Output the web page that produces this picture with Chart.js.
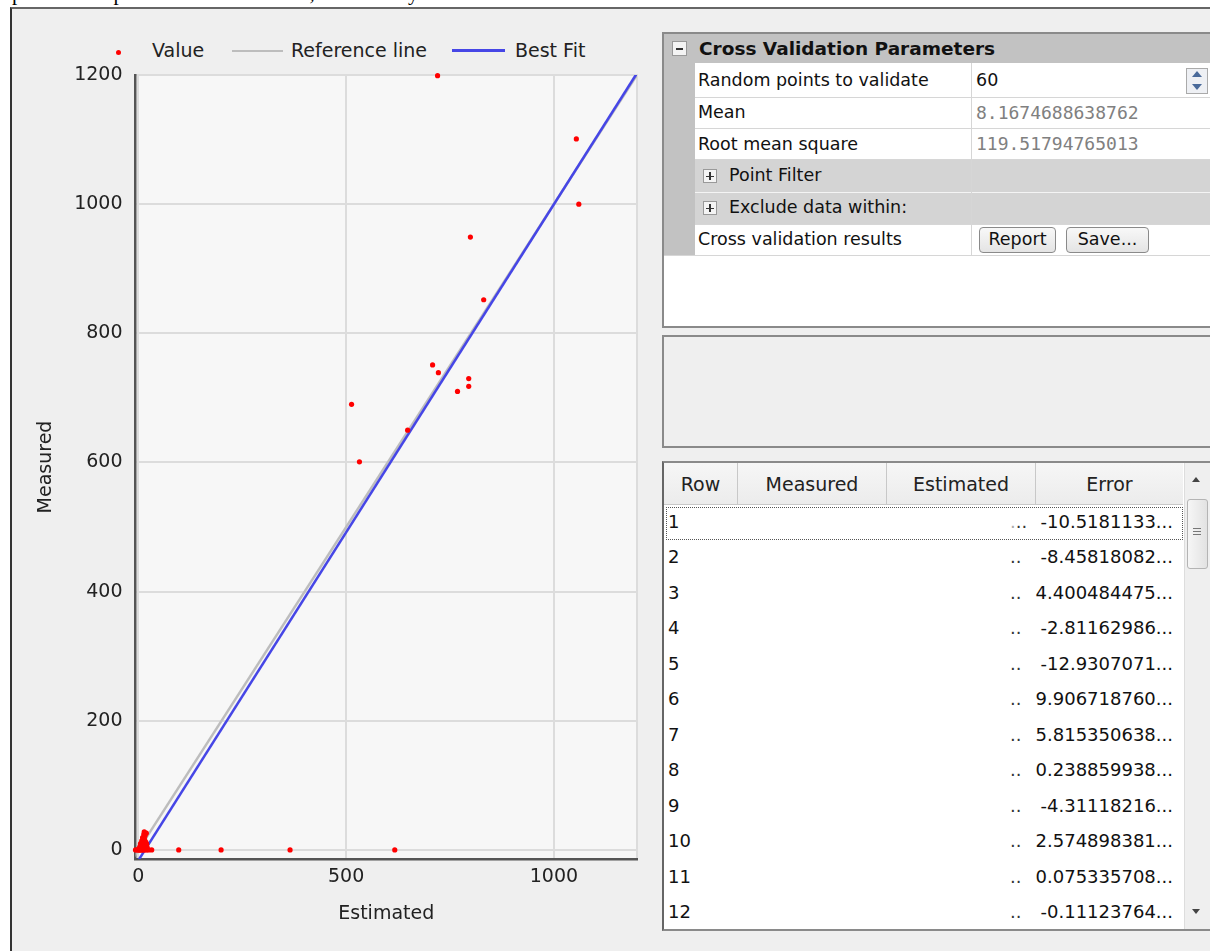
<!DOCTYPE html>
<html><head><meta charset="utf-8">
<script src="https://cdn.jsdelivr.net/npm/chart.js@4.4.1/dist/chart.umd.min.js"></script>
<style>
body{margin:0;width:1210px;height:951px;background:#fff;overflow:hidden;position:relative;font-family:"DejaVu Sans",sans-serif;color:#111;}
.abs{position:absolute;}
#toptext{left:12px;top:-17px;font-family:"Liberation Serif",serif;font-size:21px;line-height:21px;white-space:nowrap;color:#000;}
#frame{left:10px;top:7px;width:1200px;height:944px;background:#efefef;border-left:2px solid #333;border-top:2px solid #666;box-sizing:border-box;}
#chartwrap{left:20px;top:30px;width:635px;height:910px;}
.leg{font-size:19px;color:#222;white-space:nowrap;line-height:20px;}
.box{border:2px solid #8a8a8a;box-sizing:border-box;}
.pl{font-size:17.5px;white-space:nowrap;color:#111;}
.mono{font-family:"DejaVu Sans Mono",monospace;font-size:18px;color:#808080;}
.btn{border:1.5px solid #8a8a8a;border-radius:4px;background:linear-gradient(#f8f8f8,#e4e4e4);box-sizing:border-box;font-size:17.5px;text-align:center;line-height:23px;}
.hdr{font-size:19px;text-align:center;line-height:40px;color:#222;}
.rowtxt{font-size:18px;white-space:nowrap;line-height:24px;}
</style></head>
<body>
<div id="toptext" class="abs">plants were predicted for the next 5, 10 and 15 years.</div>
<div id="frame" class="abs"></div>

<!-- legend -->
<div class="abs" style="left:116px;top:50px;width:5px;height:5px;border-radius:3px;background:#f00;"></div>
<div class="abs leg" style="left:152px;top:40px;">Value</div>
<div class="abs" style="left:232px;top:50px;width:51px;height:2px;background:#bdbdbd;"></div>
<div class="abs leg" style="left:291px;top:40px;">Reference line</div>
<div class="abs" style="left:452px;top:49px;width:53px;height:3px;background:#4646e6;"></div>
<div class="abs leg" style="left:515px;top:40px;">Best Fit</div>

<div id="chartwrap" class="abs"><canvas id="c" width="635" height="910"></canvas></div>

<!-- property grid -->
<div class="abs box" style="left:662px;top:32px;width:560px;height:296px;background:#fff;"></div>
<div class="abs" style="left:664px;top:34px;width:546px;height:29px;background:#c2c2c2;"></div>
<div class="abs" style="left:672px;top:41px;width:15px;height:15px;border:1px solid #999;background:#f4f4f4;box-sizing:border-box;"></div>
<div class="abs" style="left:676px;top:48px;width:7px;height:1.5px;background:#333;"></div>
<div class="abs" style="left:699px;top:37px;font-weight:bold;font-size:18.5px;white-space:nowrap;line-height:24px;color:#111;">Cross Validation Parameters</div>
<div class="abs" style="left:664px;top:63px;width:31px;height:192px;background:#c2c2c2;"></div>
<div class="abs" style="left:695px;top:160px;width:515px;height:64px;background:#d4d4d4;"></div>
<!-- row separators -->
<div class="abs" style="left:695px;top:97px;width:515px;height:1px;background:#d6d6d6;"></div>
<div class="abs" style="left:695px;top:128px;width:515px;height:1px;background:#d6d6d6;"></div>
<div class="abs" style="left:695px;top:159px;width:515px;height:1px;background:#d6d6d6;"></div>
<div class="abs" style="left:695px;top:192px;width:515px;height:1px;background:#f4f4f4;"></div>
<div class="abs" style="left:695px;top:224px;width:515px;height:1px;background:#d6d6d6;"></div>
<div class="abs" style="left:664px;top:255px;width:546px;height:1px;background:#d6d6d6;"></div>
<div class="abs" style="left:971px;top:63px;width:1px;height:192px;background:#d6d6d6;"></div>
<div class="abs pl" style="left:698px;top:70px;">Random points to validate</div>
<div class="abs pl" style="left:976px;top:70px;">60</div>
<div class="abs" style="left:1186px;top:68px;width:22px;height:26px;border:1px solid #aaa;background:#eef0f4;box-sizing:border-box;"></div>
<div class="abs" style="left:1192px;top:71px;width:0;height:0;border-left:5px solid transparent;border-right:5px solid transparent;border-bottom:6px solid #4a6a9a;"></div>
<div class="abs" style="left:1192px;top:84px;width:0;height:0;border-left:5px solid transparent;border-right:5px solid transparent;border-top:6px solid #4a6a9a;"></div>
<div class="abs pl" style="left:698px;top:102px;">Mean</div>
<div class="abs mono" style="left:976px;top:102px;">8.1674688638762</div>
<div class="abs pl" style="left:698px;top:134px;">Root mean square</div>
<div class="abs mono" style="left:976px;top:133px;">119.51794765013</div>
<div class="abs" style="left:703px;top:169px;width:14px;height:14px;border:1px solid #999;background:#f4f4f4;box-sizing:border-box;"></div>
<div class="abs" style="left:706px;top:175.5px;width:8px;height:1.5px;background:#333;"></div>
<div class="abs" style="left:709.3px;top:172px;width:1.5px;height:8px;background:#333;"></div>
<div class="abs pl" style="left:729px;top:165px;">Point Filter</div>
<div class="abs" style="left:703px;top:201px;width:14px;height:14px;border:1px solid #999;background:#f4f4f4;box-sizing:border-box;"></div>
<div class="abs" style="left:706px;top:207.5px;width:8px;height:1.5px;background:#333;"></div>
<div class="abs" style="left:709.3px;top:204px;width:1.5px;height:8px;background:#333;"></div>
<div class="abs pl" style="left:729px;top:197px;">Exclude data within:</div>
<div class="abs pl" style="left:698px;top:229px;">Cross validation results</div>
<div class="abs btn" style="left:979px;top:227px;width:77px;height:26px;">Report</div>
<div class="abs btn" style="left:1066px;top:227px;width:83px;height:26px;">Save...</div>

<!-- empty box -->
<div class="abs box" style="left:662px;top:335px;width:560px;height:113px;background:#efefef;"></div>

<!-- table -->
<div class="abs box" style="left:662px;top:461px;width:560px;height:470px;background:#fff;border-left-color:#666;"></div>
<div class="abs" style="left:664px;top:463px;width:519px;height:42px;background:linear-gradient(#f6f6f6,#ececec);border-bottom:1px solid #c8c8c8;box-sizing:border-box;"></div>
<div class="abs" style="left:737px;top:463px;width:1px;height:42px;background:#c8c8c8;"></div>
<div class="abs" style="left:886px;top:463px;width:1px;height:42px;background:#c8c8c8;"></div>
<div class="abs" style="left:1035px;top:463px;width:1px;height:42px;background:#c8c8c8;"></div>
<div class="abs hdr" style="left:664px;top:464px;width:73px;">Row</div>
<div class="abs hdr" style="left:738px;top:464px;width:148px;">Measured</div>
<div class="abs hdr" style="left:887px;top:464px;width:148px;">Estimated</div>
<div class="abs hdr" style="left:1036px;top:464px;width:147px;">Error</div>
<div class="abs" style="left:1184px;top:463px;width:26px;height:466px;background:#efefef;border-left:1px solid #ddd;box-sizing:border-box;"></div>
<div class="abs" style="left:1192px;top:477px;width:0;height:0;border-left:4.5px solid transparent;border-right:4.5px solid transparent;border-bottom:5px solid #444;"></div>
<div class="abs" style="left:1187px;top:499px;width:21px;height:70px;border:1px solid #b4b4b4;border-radius:3px;background:linear-gradient(90deg,#f6f6f6,#e2e2e2);box-sizing:border-box;"></div>
<div class="abs" style="left:1193px;top:528px;width:8px;height:1px;background:#777;box-shadow:0 3px 0 #777,0 6px 0 #777;"></div>
<div class="abs" style="left:1192px;top:909px;width:0;height:0;border-left:4.5px solid transparent;border-right:4.5px solid transparent;border-top:5px solid #444;"></div>
<div class="abs" style="left:666px;top:507px;width:517px;height:33px;border:1px dotted #555;box-sizing:border-box;"></div>
<div id="rows"></div>

<script>
// ---- chart data ----
const xTicks = [0, 500, 1000];
const yTicks = [0, 200, 400, 600, 800, 1000, 1200];
const estimated = [720, 1054, 1060, 799, 831, 708, 722, 795, 795, 768, 513, 648, 532,
  97, 199, 365, 617, 32, 25, 20, 16, 12, 9, 6, 4, 2, 0, -3, -7,
  2, 4, 5, 7, 8, 10, 10, 12, 13, 14, 15, 16, 17, 18, 20, 21, 6, 11, 14, 19];
const measured = [1199, 1101, 1000, 949, 852, 751, 739, 730, 718, 710, 690, 650, 601,
  0, 0, 0, 0, 0, 0, 0, 0, 0, 0, 0, 0, 0, 0, 0, 0,
  3, 6, 10, 4, 14, 8, 19, 12, 24, 28, 16, 22, 6, 12, 9, 4, 2, 3, 2, 26];
const referenceLineX = [-14, 1200];
const referenceLineY = [-14, 1200];
const bestFitX = [0, 1200];
const bestFitY = [-16, 1203];

// table data
const rowNumbers = [1,2,3,4,5,6,7,8,9,10,11,12];
const errors = ["-10.5181133...","-8.45818082...","4.400484475...","-2.81162986...","-12.9307071...","9.906718760...","5.815350638...","0.238859938...","-4.31118216...","2.574898381...","0.075335708...","-0.11123764..."];

const rowsEl = document.getElementById('rows');
rowNumbers.forEach((n, i) => {
  const top = 510 + i * 35.45;
  rowsEl.insertAdjacentHTML('beforeend',
    `<div class="abs rowtxt" style="left:668px;top:${top}px;">${n}</div>` +
    `<div class="abs rowtxt" style="left:1010px;top:${top}px;color:#333;">${i===0?'<span style="color:#aaa">.</span>..':'..'}</div>` +
    `<div class="abs rowtxt" style="left:1030px;top:${top}px;width:143px;text-align:right;">${errors[i]}</div>`);
});

const pts = (xs, ys) => xs.map((x, i) => ({x, y: ys[i]}));

const plotBg = {
  id: 'plotBg',
  beforeDraw(chart) {
    const {ctx, chartArea: a} = chart;
    ctx.save();
    ctx.fillStyle = '#f7f7f7';
    ctx.fillRect(a.left, a.top, a.right - a.left, a.bottom - a.top);
    ctx.strokeStyle = '#dcdcdc';
    ctx.lineWidth = 2;
    ctx.beginPath();
    ctx.moveTo(a.left, a.top); ctx.lineTo(a.right, a.top); ctx.lineTo(a.right, a.bottom);
    ctx.stroke();
    ctx.restore();
  }
};

const font = {family: 'DejaVu Sans', size: 19};
const plain = v => String(v);
new Chart(document.getElementById('c'), {
  type: 'scatter',
  data: {
    datasets: [
      {label: 'Value', data: pts(estimated, measured), backgroundColor: '#ff0000', borderColor: '#ff0000',
       pointRadius: 2.6, pointBorderWidth: 0, clip: false, order: 0},
      {label: 'Reference line', data: pts(referenceLineX, referenceLineY), showLine: true,
       borderColor: '#bdbdbd', borderWidth: 2.5, pointRadius: 0, order: 2},
      {label: 'Best Fit', data: pts(bestFitX, bestFitY), showLine: true,
       borderColor: '#4646e6', borderWidth: 2.5, pointRadius: 0, order: 1}
    ]
  },
  options: {
    responsive: false, animation: false,
    layout: {padding: {top: 45, right: 18, left: 0, bottom: 0}},
    plugins: {legend: {display: false}, tooltip: {enabled: false}},
    scales: {
      x: {type: 'linear', min: -7, max: 1200,
        afterBuildTicks: s => { s.ticks = xTicks.map(v => ({value: v})); },
        afterFit: s => { s.height = 81; },
        grid: {color: '#dcdcdc', lineWidth: 2, drawTicks: false},
        border: {color: '#555', width: 2.5},
        ticks: {padding: 7, color: '#222', font: font, maxRotation: 0, callback: plain},
        title: {display: true, text: 'Estimated', color: '#222', font: font, padding: {top: 15, bottom: 15}}},
      y: {type: 'linear', min: -14, max: 1200,
        afterBuildTicks: s => { s.ticks = yTicks.map(v => ({value: v})); },
        afterFit: s => { s.width = 115.5; },
        grid: {color: '#dcdcdc', lineWidth: 2, drawTicks: false},
        border: {color: '#555', width: 2.5},
        ticks: {padding: 13, color: '#222', font: font, callback: plain},
        title: {display: true, text: 'Measured', color: '#222', font: font, padding: {top: 15, bottom: 15}}}
    }
  },
  plugins: [plotBg]
});
</script>
</body></html>
